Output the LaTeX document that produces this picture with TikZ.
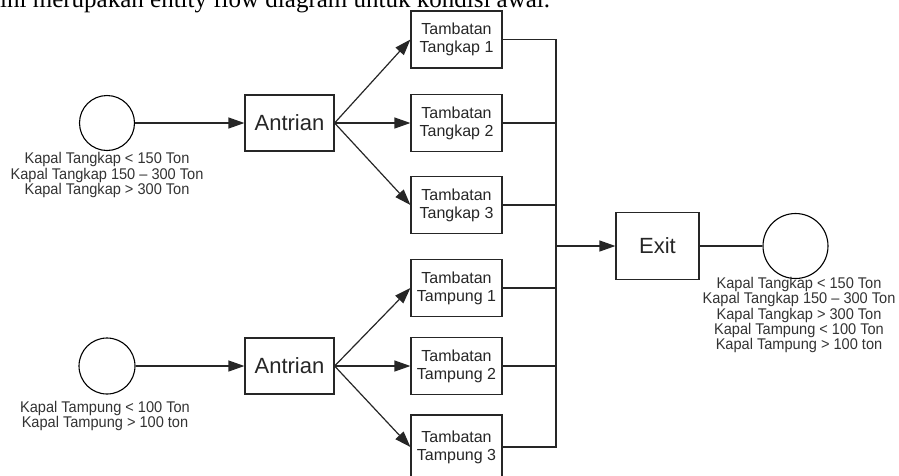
\documentclass[tikz,border=0pt]{standalone}
\usepackage{fontspec}
\setmainfont{Liberation Sans}
\newfontfamily\capfont{Liberation Serif}
\newfontfamily\labfont[FakeStretch=0.94]{Liberation Sans}
\usetikzlibrary{arrows.meta}
\begin{document}
\begin{tikzpicture}[x=1pt,y=-1pt,
  ln/.style={line width=1.2pt, draw=black!85},
  arr/.style={ln, -{Triangle[length=16pt,width=11pt]}},
  bx/.style={draw=black!85, line width=1.2pt, rectangle, inner sep=0pt, align=center, text=black!85},
  tb/.style={bx, minimum width=91pt, minimum height=57pt, font=\fontsize{16}{18}\selectfont},
  ab/.style={bx, minimum width=89pt, minimum height=56pt, font=\fontsize{22}{24}\selectfont},
  ent/.style={circle, draw=black, line width=1.1pt, inner sep=0pt},
  lab/.style={align=center, inner sep=0pt, text=black!80, font=\labfont\fontsize{15.5}{14}\selectfont}
]
\useasboundingbox (0,0) rectangle (899,475);
\node[anchor=base west, inner sep=0pt, font=\capfont\fontsize{25}{28}\selectfont] (cap) at (0,7) {ini merupakan entity flow diagram untuk kondisi awal.};

% sources
\node[ent, minimum size=55pt] (c1) at (107,123) {};
\node[ent, minimum size=56pt] (c2) at (107,366) {};
\node[lab] (l1) at (107,175) {Kapal Tangkap < 150 Ton\\Kapal Tangkap 150 – 300 Ton\\Kapal Tangkap > 300 Ton};
\node[lab] (l2) at (105,416) {Kapal Tampung < 100 Ton\\Kapal Tampung > 100 ton};

% queues
\node[ab] (a1) at (289.5,123) {Antrian};
\node[ab] (a2) at (289.5,366) {Antrian};

% berths
\node[tb] (t1) at (456.5,39.5) {Tambatan\\Tangkap 1};
\node[tb] (t2) at (456.5,123) {Tambatan\\Tangkap 2};
\node[tb] (t3) at (456.5,205) {Tambatan\\Tangkap 3};
\node[tb] (p1) at (456.5,288) {Tambatan\\Tampung 1};
\node[tb] (p2) at (456.5,366) {Tambatan\\Tampung 2};
\node[tb, minimum height=64pt] (p3) at (456.5,447) {Tambatan\\Tampung 3};

% exit
\node[bx, minimum width=83pt, minimum height=67pt, font=\fontsize{22}{24}\selectfont] (ex) at (657.5,246) {Exit};
\node[ent, minimum size=65pt] (c3) at (795.5,246) {};
\node[lab] (l3) at (799,315) {Kapal Tangkap < 150 Ton\\Kapal Tangkap 150 – 300 Ton\\Kapal Tangkap > 300 Ton\\Kapal Tampung < 100 Ton\\Kapal Tampung > 100 ton};

% connectors
\draw[arr] (c1) -- (a1);
\draw[arr] (c2) -- (a2);
\draw[arr] (a1.east) -- (t1.west);
\draw[arr] (a1.east) -- (t2.west);
\draw[arr] (a1.east) -- (t3.west);
\draw[arr] (a2.east) -- (p1.west);
\draw[arr] (a2.east) -- (p2.west);
\draw[arr] (a2.east) -- (p3.west);

\coordinate (bus) at (556,0);
\draw[ln] (t1.east) -- (t1.east -| bus) -- (p3.east -| bus) -- (p3.east);
\draw[ln] (t2.east) -- (t2.east -| bus);
\draw[ln] (t3.east) -- (t3.east -| bus);
\draw[ln] (p1.east) -- (p1.east -| bus);
\draw[ln] (p2.east) -- (p2.east -| bus);
\draw[arr] (ex.west -| bus) -- (ex.west);
\draw[ln] (ex) -- (c3);
\end{tikzpicture}
\end{document}
